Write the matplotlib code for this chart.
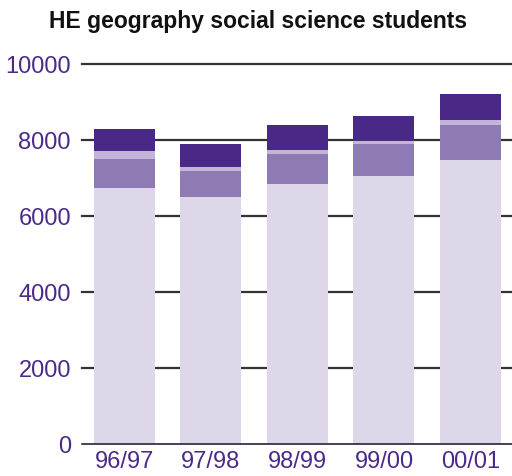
import matplotlib
matplotlib.use("Agg")
import matplotlib.pyplot as plt

years = ["96/97", "97/98", "98/99", "99/00", "00/01"]
base = [6730, 6500, 6840, 7050, 7470]
middle = [770, 680, 790, 840, 920]
band = [210, 110, 100, 80, 130]
top = [580, 600, 660, 660, 690]
yticks = [0, 2000, 4000, 6000, 8000, 10000]

colors = ["#ded7ea", "#8e7bb3", "#c3b5d8", "#4a2885"]
text_color = "#4b2a8a"

plt.rcParams["font.family"] = ["Liberation Sans", "DejaVu Sans"]

fig = plt.figure(figsize=(5.12, 4.77), dpi=100)
ax = fig.add_axes([82 / 512, 32.5 / 477, 430 / 512, 379.5 / 477])

x = list(range(len(years)))
bottom = [0] * len(years)
for vals, c in zip([base, middle, band, top], colors):
    ax.bar(x, vals, bottom=bottom, width=0.705, color=c, zorder=3)
    bottom = [b + v for b, v in zip(bottom, vals)]

for t in yticks[1:]:
    ax.axhline(t, color="#333333", lw=1.6, zorder=1, clip_on=False)
ax.axhline(0, color="#2a1f40", lw=1.2, zorder=4, clip_on=False)

ax.set_xlim(-0.491, 4.48)
ax.set_ylim(0, 10000)
ax.set_yticks(yticks)
ax.set_yticklabels([str(t) for t in yticks])
ax.set_xticks(x)
ax.set_xticklabels(years)
ax.tick_params(axis="both", length=0, labelsize=17, colors=text_color)
ax.tick_params(axis="y", pad=8)
ax.tick_params(axis="x", pad=5)
for s in ax.spines.values():
    s.set_visible(False)

fig.text(0.504, 0.941, "HE geography social science students", ha="center",
         va="baseline", fontsize=16.5, fontweight="bold", color="#111111")

fig.savefig("out.png", dpi=100)
